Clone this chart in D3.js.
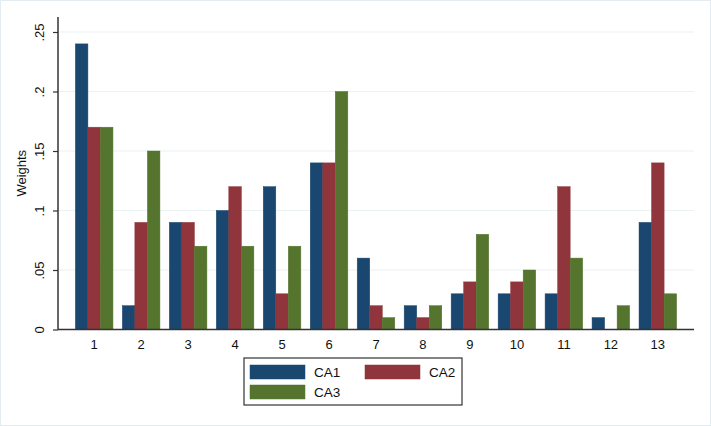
<!DOCTYPE html>
<html>
<head>
<meta charset="utf-8">
<script src="https://cdn.jsdelivr.net/npm/d3@7"></script>
<style>
  body { margin: 0; background: #fff; }
  svg text { font-family: "Liberation Sans", Arial, sans-serif; fill: #111; }
</style>
</head>
<body>
<script>
var categories = ['1', '2', '3', '4', '5', '6', '7', '8', '9', '10', '11', '12', '13'];
var seriesNames = ['CA1', 'CA2', 'CA3'];
var ca1 = [0.24, 0.02, 0.09, 0.10, 0.12, 0.14, 0.06, 0.02, 0.03, 0.03, 0.03, 0.01, 0.09];
var ca2 = [0.17, 0.09, 0.09, 0.12, 0.03, 0.14, 0.02, 0.01, 0.04, 0.04, 0.12, 0.00, 0.14];
var ca3 = [0.17, 0.15, 0.07, 0.07, 0.07, 0.20, 0.01, 0.02, 0.08, 0.05, 0.06, 0.02, 0.03];
var yTicks = [0, 0.05, 0.1, 0.15, 0.2, 0.25];
var yTickLabels = ['0', '.05', '.1', '.15', '.2', '.25'];
var colors = ['#1a476f', '#90353b', '#55752f'];

var width = 711, height = 426;
var plotLeft = 58, plotRight = 694, plotTop = 17, plotBottom = 329.5;

var svg = d3.select('body').append('svg').attr('width', width).attr('height', height);

svg.append('rect').attr('x', 0.5).attr('y', 0.5).attr('width', width - 1).attr('height', height - 1)
  .attr('fill', '#fff').attr('stroke', '#e3ecf0');

var x = d3.scaleBand().domain(categories).range([plotLeft, plotRight]).paddingInner(0.2).paddingOuter(0.37);
var xs = d3.scaleBand().domain(seriesNames).range([0, x.bandwidth()]);
var y = d3.scaleLinear().domain([0, 0.25]).range([plotBottom, 32]);

// gridlines
svg.append('g').selectAll('line')
  .data(yTicks.slice(1))
  .enter().append('line')
  .attr('x1', plotLeft).attr('x2', plotRight)
  .attr('y1', function (d) { return y(d); })
  .attr('y2', function (d) { return y(d); })
  .attr('stroke', '#eaf2f4').attr('stroke-width', 1.2);

var allSeries = [ca1, ca2, ca3];
var rows = [];
categories.forEach(function (c, i) {
  seriesNames.forEach(function (s, j) {
    rows.push({ cat: c, series: s, value: allSeries[j][i], color: colors[j] });
  });
});

svg.append('g').selectAll('rect')
  .data(rows)
  .enter().append('rect')
  .attr('x', function (d) { return x(d.cat) + xs(d.series); })
  .attr('width', xs.bandwidth())
  .attr('y', function (d) { return y(d.value); })
  .attr('height', function (d) { return plotBottom - y(d.value); })
  .attr('fill', function (d) { return d.color; })
  .attr('stroke', function (d) { return d.color; })
  .attr('stroke-width', 0.5);

// y axis
var yAxis = d3.axisLeft(y).tickValues(yTicks)
  .tickFormat(function (d, i) { return yTickLabels[i]; })
  .tickSize(5).tickPadding(4);
var gy = svg.append('g').attr('transform', 'translate(' + plotLeft + ',0)').call(yAxis);
gy.select('.domain').attr('d', 'M0,' + plotTop + 'V' + plotBottom).attr('stroke', '#333').attr('stroke-width', 1.5);
gy.selectAll('.tick line').attr('stroke', '#333').attr('stroke-width', 1.2);
gy.selectAll('.tick text')
  .attr('font-size', 13)
  .attr('transform', 'rotate(-90)')
  .attr('x', 0).attr('y', -14)
  .attr('text-anchor', 'middle')
  .attr('dy', 0);

// x axis
var xAxis = d3.axisBottom(x).tickSize(0).tickPadding(10);
var gx = svg.append('g').attr('transform', 'translate(0,' + plotBottom + ')').call(xAxis);
gx.select('.domain').attr('d', 'M' + plotLeft + ',0H' + plotRight).attr('stroke', '#333').attr('stroke-width', 1.5);
gx.selectAll('.tick text').attr('font-size', 13);

// y title
svg.append('text')
  .attr('transform', 'translate(26,' + ((plotTop + plotBottom) / 2) + ') rotate(-90)')
  .attr('text-anchor', 'middle')
  .attr('font-size', 13)
  .text('Weights');

// legend
var lg = svg.append('g').attr('transform', 'translate(244,358)');
lg.append('rect').attr('width', 218).attr('height', 47)
  .attr('fill', '#fff').attr('stroke', '#333').attr('stroke-width', 1.2);
var keyPos = [[6, 7], [121, 7], [6, 27]];
seriesNames.forEach(function (s, j) {
  var k = lg.append('g').attr('transform', 'translate(' + keyPos[j][0] + ',' + keyPos[j][1] + ')');
  k.append('rect').attr('width', 55).attr('height', 14)
    .attr('fill', colors[j]).attr('stroke', colors[j]).attr('stroke-width', 0.5);
  k.append('text').attr('x', 64).attr('y', 12).attr('font-size', 13.5).text(s);
});
</script>
</body>
</html>
